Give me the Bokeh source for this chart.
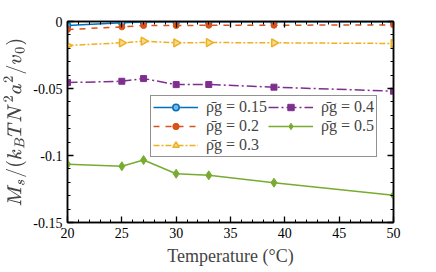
from bokeh.plotting import figure
from bokeh.models import FixedTicker, LinearAxis, Legend, LegendItem, Range1d, TeX
from bokeh.embed import file_html
from bokeh.resources import INLINE

temps = [20, 25, 27, 30, 33, 39, 50]
rho_labels = ["ρ̄g = 0.15", "ρ̄g = 0.2", "ρ̄g = 0.3", "ρ̄g = 0.4", "ρ̄g = 0.5"]
ms_015 = [-0.0030, -0.0010, -0.0004, -0.0002, -0.0002, -0.0002, -0.0002]
ms_02 = [-0.0060, -0.0040, -0.0030, -0.0030, -0.0028, -0.0028, -0.0025]
ms_03 = [-0.0179, -0.0159, -0.0147, -0.0159, -0.0157, -0.0159, -0.0164]
ms_04 = [-0.0456, -0.0446, -0.0426, -0.0471, -0.0470, -0.0490, -0.0520]
ms_05 = [-0.1066, -0.1080, -0.1034, -0.1136, -0.1148, -0.1203, -0.1297]
y_ticks = [-0.15, -0.1, -0.05, 0]
y_tick_labels = ["-0.15", "-0.1", "-0.05", "0"]
x_ticks = [20, 25, 30, 35, 40, 45, 50]

FONT = "Liberation Serif"

p = figure(width=436, height=272, output_backend="svg", toolbar_location=None,
           x_range=Range1d(20, 50), y_range=Range1d(-0.15, 0),
           min_border_left=67, min_border_right=43, min_border_top=21, min_border_bottom=50)
p.xgrid.visible = False
p.ygrid.visible = False
p.outline_line_color = "black"
p.outline_line_width = 1.5
p.background_fill_color = "white"
p.border_fill_color = "white"

xt = FixedTicker(ticks=x_ticks, minor_ticks=list(range(20, 51)))
yt = FixedTicker(ticks=y_ticks, minor_ticks=[round(-0.15 + 0.01 * i, 2) for i in range(16)])

def style(ax):
    ax.major_tick_in = 6
    ax.major_tick_out = 0
    ax.minor_tick_in = 3
    ax.minor_tick_out = 0
    ax.axis_line_width = 1.5
    ax.major_tick_line_width = 1.3
    ax.minor_tick_line_width = 1.0
    ax.major_label_text_font = FONT
    ax.major_label_text_font_size = "14px"
    ax.major_label_text_color = "black"
    ax.major_label_standoff = 5

p.xaxis.ticker = xt
p.yaxis.ticker = yt
p.yaxis.major_label_overrides = {t: l for t, l in zip(y_ticks, y_tick_labels)}
style(p.xaxis[0])
style(p.yaxis[0])
p.xaxis.major_label_standoff = 5
p.xaxis.axis_label = "Temperature (°C)"
p.xaxis.axis_label_text_font = FONT
p.xaxis.axis_label_text_font_style = "normal"
p.xaxis.axis_label_text_font_size = "18px"
p.xaxis.axis_label_standoff = 5
p.yaxis.axis_label = TeX(text=r"M_s/(k_BTN^2a^2/v_0)")
p.yaxis.axis_label_text_font_size = "17px"
p.yaxis.axis_label_standoff = 4

top = LinearAxis(ticker=xt)
right = LinearAxis(ticker=yt)
style(top)
style(right)
top.major_label_overrides = {t: "" for t in x_ticks}
right.major_label_overrides = {t: "" for t in y_ticks}
top.major_label_standoff = 0
right.major_label_standoff = 0
p.add_layout(top, "above")
p.add_layout(right, "right")

colors = ["#0072BD", "#D95319", "#EDB120", "#7E2F8E", "#77AC30"]
series = [ms_015, ms_02, ms_03, ms_04, ms_05]
dashes = ["solid", "dashed", "6 2 2 2", "10 3 2 3", "solid"]
items = []
for i, (lab, ys, c, d) in enumerate(zip(rho_labels, series, colors, dashes)):
    r1 = p.line(temps, ys, line_color=c, line_width=1.5, line_dash=d)
    if i == 0:
        r2 = p.scatter(temps, ys, marker="circle", size=6, line_color=c, fill_color="#7fb3e0", line_width=1.5)
    elif i == 1:
        r2 = p.scatter(temps, ys, marker="circle", size=6, line_color=c, fill_color=c, line_width=1)
    elif i == 2:
        r2 = p.scatter(temps, ys, marker="triangle", angle=-1.5708, size=8, line_color=c, fill_color="#f6d88f", line_width=1.5)
    elif i == 3:
        r2 = p.scatter(temps, ys, marker="square", size=6, line_color=c, fill_color=c, line_width=1)
    else:
        r2 = p.scatter(temps, ys, marker="diamond", size=9, line_color=c, fill_color=c, line_width=1)
    items.append(LegendItem(label=lab, renderers=[r1, r2]))

legend = Legend(items=items, location=(83, 65), nrows=3, orientation="vertical",
                border_line_color="#262626", border_line_width=1.3,
                label_text_font=FONT, label_text_font_size="16px",
                glyph_width=45, glyph_height=16, label_height=16,
                spacing=1, padding=2, margin=0, label_standoff=8,
                background_fill_alpha=1)
p.add_layout(legend, "center")

open("out.html", "w").write(file_html(p, INLINE))
